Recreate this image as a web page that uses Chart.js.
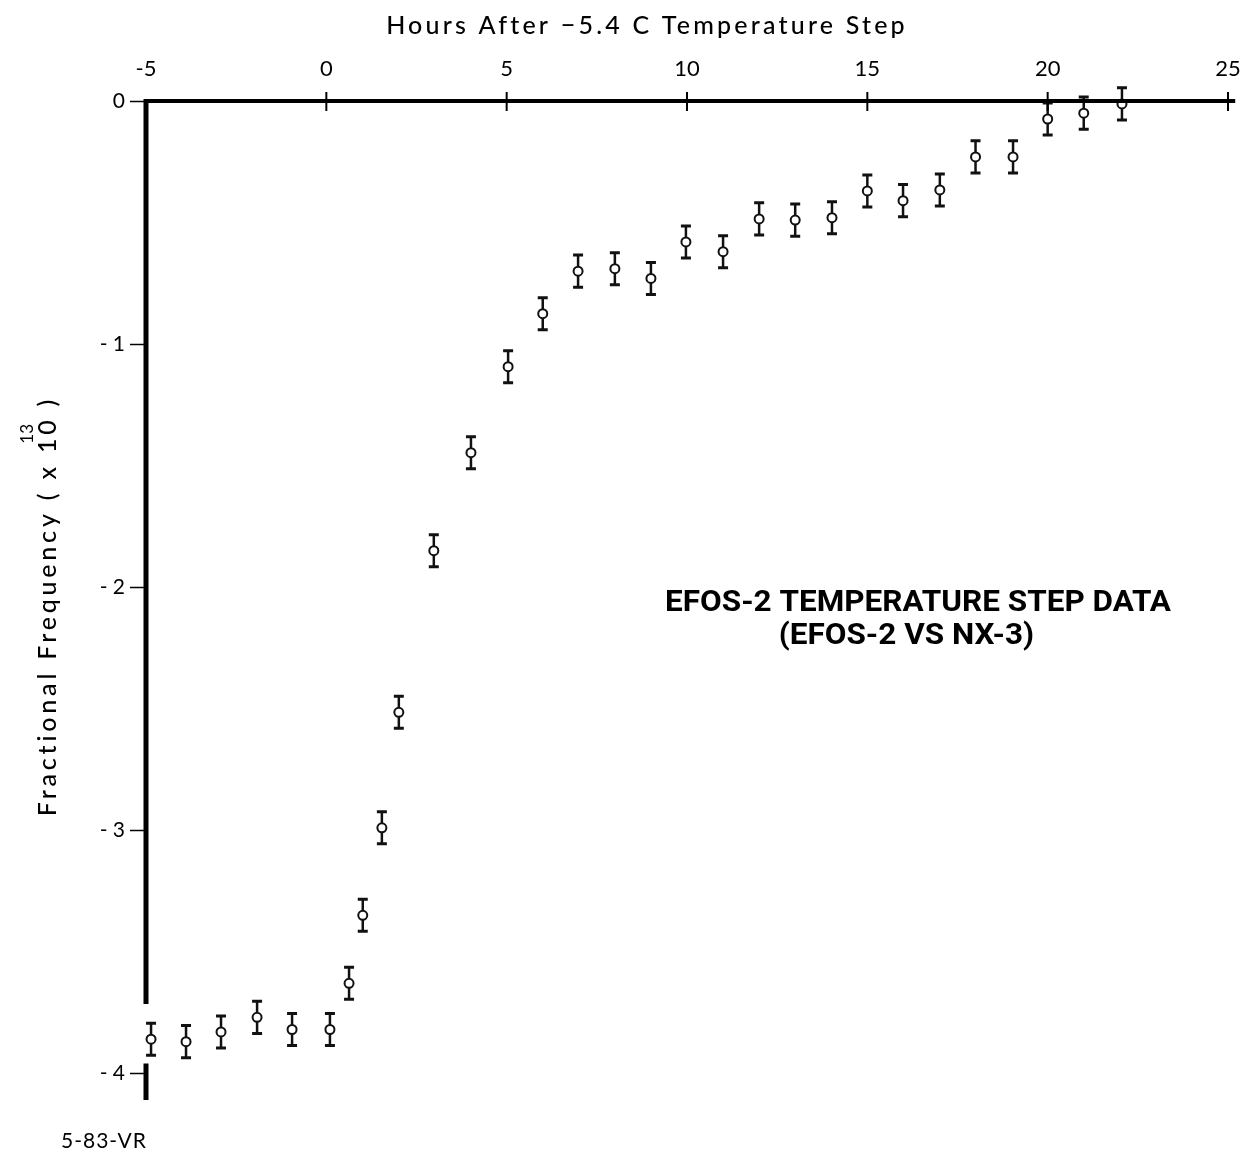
<!DOCTYPE html>
<html>
<head>
<meta charset="utf-8">
<script src="https://cdn.jsdelivr.net/npm/chart.js@4/dist/chart.umd.min.js"></script>
<style>
  html, body { margin: 0; padding: 0; background: #fff; overflow: hidden; }
  #wrap { width: 1248px; height: 1164px; position: relative; }
  canvas { display: block; }
</style>
</head>
<body>
<div id="wrap"><canvas id="chartContainer"></canvas></div>
<script>
// values
const hours = [-4.86, -3.89, -2.92, -1.92, -0.95, 0.10, 0.63, 1.01, 1.54, 2.01,
  2.98, 4.01, 5.04, 6.0, 6.98, 8.0, 9.0, 9.97, 11.0, 12.0,
  13.0, 14.02, 15.0, 15.99, 17.01, 18.0, 19.04, 20.0, 21.0, 22.06];
const freq = [-3.86, -3.87, -3.83, -3.77, -3.82, -3.82, -3.63, -3.35, -2.99, -2.515,
  -1.85, -1.447, -1.093, -0.875, -0.70, -0.69, -0.73, -0.58, -0.62, -0.485,
  -0.49, -0.48, -0.37, -0.41, -0.366, -0.23, -0.23, -0.074, -0.05, -0.012];
const errBar = [0.066, 0.066, 0.066, 0.066, 0.066, 0.066, 0.066, 0.066, 0.066, 0.066,
  0.066, 0.066, 0.066, 0.066, 0.066, 0.066, 0.066, 0.066, 0.066, 0.066,
  0.066, 0.066, 0.066, 0.066, 0.066, 0.066, 0.066, 0.066, 0.066, 0.066];
const xTicks = [-5, 0, 5, 10, 15, 20, 25];
const yTicks = [0, -1, -2, -3, -4];

const xTitle = "Hours After \u22125.4 C Temperature Step";
const yTitle = "Fractional Frequency ( x 10 )";
const yTitleSup = "13";
const noteLines = ["EFOS-2 TEMPERATURE STEP DATA", "(EFOS-2 VS NX-3)"];
const figId = "5-83-VR";

const FONT = '"Lato", "DejaVu Sans", sans-serif';

// error bars under the circles
const errorBars = {
  id: 'errorBars',
  beforeDatasetsDraw(chart) {
    const ctx = chart.ctx;
    const xs = chart.scales.x, ys = chart.scales.y;
    ctx.save();
    ctx.strokeStyle = '#111';
    hours.forEach((h, i) => {
      const px = xs.getPixelForValue(h);
      const top = ys.getPixelForValue(freq[i] + errBar[i]);
      const bot = ys.getPixelForValue(freq[i] - errBar[i]);
      ctx.lineWidth = 2.5;
      ctx.beginPath();
      ctx.moveTo(px, top); ctx.lineTo(px, bot);
      ctx.stroke();
      ctx.lineWidth = 3;
      ctx.beginPath();
      ctx.moveTo(px - 5, top); ctx.lineTo(px + 5, top);
      ctx.moveTo(px - 5, bot); ctx.lineTo(px + 5, bot);
      ctx.stroke();
    });
    ctx.restore();
  }
};

// heavy axes, crossing ticks on top axis, broken y axis, free text
const axesAndText = {
  id: 'axesAndText',
  afterDraw(chart) {
    const ctx = chart.ctx;
    const xs = chart.scales.x, ys = chart.scales.y;
    const y0 = ys.getPixelForValue(0);
    const x0 = xs.getPixelForValue(-5);
    ctx.save();
    ctx.strokeStyle = '#000';
    ctx.lineCap = 'butt';

    // x axis
    ctx.lineWidth = 4;
    ctx.beginPath();
    ctx.moveTo(x0, y0);
    ctx.lineTo(xs.getPixelForValue(25.2), y0);
    ctx.stroke();

    ctx.lineWidth = 2;
    xTicks.slice(1).forEach(v => {
      const px = xs.getPixelForValue(v);
      ctx.beginPath();
      ctx.moveTo(px, y0 - 9); ctx.lineTo(px, y0 + 10);
      ctx.stroke();
    });

    // y axis with a break near the bottom
    ctx.lineWidth = 5;
    ctx.beginPath();
    ctx.moveTo(x0, y0 - 2);
    ctx.lineTo(x0, ys.getPixelForValue(-3.715));
    ctx.moveTo(x0, ys.getPixelForValue(-3.96));
    ctx.lineTo(x0, ys.getPixelForValue(-4.11));
    ctx.stroke();

    // titles
    ctx.fillStyle = '#000';
    ctx.textAlign = 'center';
    ctx.textBaseline = 'middle';
    ctx.font = '500 25px ' + FONT;
    ctx.letterSpacing = '3.2px';
    ctx.fillText(xTitle, 647, 26);

    ctx.save();
    ctx.translate(48, 606);
    ctx.rotate(-Math.PI / 2);
    ctx.font = '500 25px ' + FONT;
    ctx.letterSpacing = '3.8px';
    ctx.fillText(yTitle, 0, 0);
    const w = ctx.measureText(yTitle).width;
    ctx.font = '17px ' + FONT;
    ctx.letterSpacing = '0px';
    ctx.fillText(yTitleSup, w / 2 - 38, -20);
    ctx.restore();

    ctx.letterSpacing = '0px';
    ctx.font = 'bold 30px "Roboto", "Liberation Sans", sans-serif';
    ctx.save();
    ctx.translate(918, 603);
    ctx.scale(1.05, 1);
    ctx.fillText(noteLines[0], 0, 0);
    ctx.fillText(noteLines[1], -11, 33);
    ctx.restore();

    ctx.textAlign = 'left';
    ctx.font = '21px ' + FONT;
    ctx.letterSpacing = '1px';
    ctx.fillText(figId, 61, 1141);
    ctx.restore();
  }
};

const chart = new Chart(document.getElementById('chartContainer'), {
  type: 'scatter',
  data: {
    datasets: [{
      data: hours.map((h, i) => ({ x: h, y: freq[i] })),
      pointStyle: 'circle',
      pointRadius: 4.5,
      pointBorderWidth: 2,
      pointBorderColor: '#111',
      pointBackgroundColor: '#fff',
      clip: false
    }]
  },
  options: {
    responsive: true,
    maintainAspectRatio: false,
    animation: false,
    events: [],
    layout: { padding: { left: 0, right: 20, top: 0, bottom: 64 } },
    plugins: { legend: { display: false }, tooltip: { enabled: false }, title: { display: false } },
    scales: {
      x: {
        type: 'linear',
        position: 'top',
        min: -5,
        max: 25,
        afterFit(scale) {
          scale.height = 101;
          scale.paddingLeft = 0;
          scale.paddingRight = 0;
        },
        afterBuildTicks(scale) { scale.ticks = xTicks.map(v => ({ value: v })); },
        grid: { display: false, drawTicks: false },
        border: { display: false },
        ticks: {
          padding: 19,
          color: '#000',
          font: { family: FONT, size: 22 },
          callback: v => (v < 0 ? '-' + Math.abs(v) : String(v))
        }
      },
      y: {
        type: 'linear',
        min: -4.11,
        max: 0,
        afterFit(scale) { scale.width = 146; },
        afterBuildTicks(scale) { scale.ticks = yTicks.map(v => ({ value: v })); },
        grid: { drawOnChartArea: false, drawTicks: true, tickLength: 16, tickWidth: 1.5, tickColor: '#000' },
        border: { display: false },
        ticks: {
          padding: 5,
          color: '#000',
          font: { family: FONT, size: 21 },
          callback: v => (v < 0 ? '- ' + Math.abs(v) : String(v))
        }
      }
    }
  },
  plugins: [errorBars, axesAndText]
});
</script>
</body>
</html>
